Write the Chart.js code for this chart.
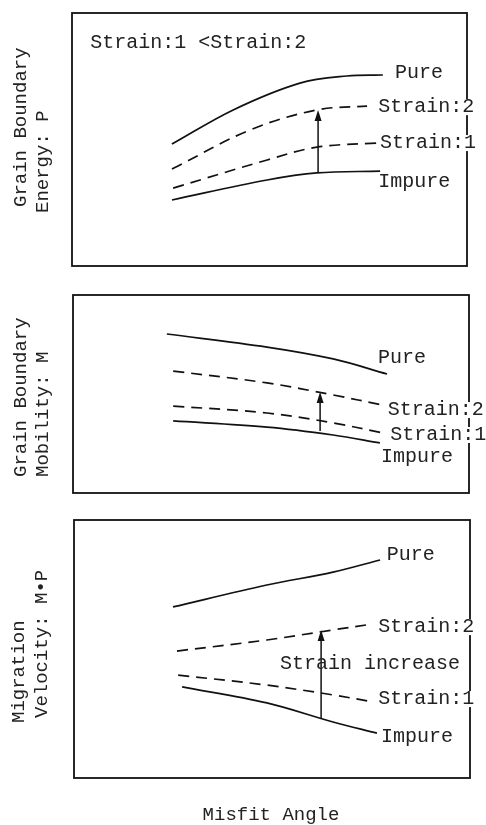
<!DOCTYPE html>
<html>
<head>
<meta charset="utf-8">
<script src="https://cdn.jsdelivr.net/npm/chart.js@4"></script>
<style>
    body { margin: 0; background: #fff; width: 486px; height: 825px; overflow: hidden; position: relative; }
    canvas { position: absolute; left: 0; }
</style>
</head>
<body>
<canvas id="energyChart" width="486" height="280" style="top:0px"></canvas>
<canvas id="mobilityChart" width="486" height="225" style="top:280px"></canvas>
<canvas id="velocityChart" width="486" height="320" style="top:505px"></canvas>
<script>
// ---- Data (x = misfit angle, y = relative value, both 0..100) ----

// Grain boundary energy P
const energyPureX = [25.3, 40.8, 57.7, 69.6, 78.7];
const energyPureY = [48.2, 61.7, 72.3, 75.1, 75.5];
const energyStrain2X = [25.3, 45.1, 62.0, 74.7];
const energyStrain2Y = [38.3, 53.8, 61.7, 63.2];
const energyStrain1X = [25.6, 49.4, 62.0, 77.2];
const energyStrain1Y = [30.8, 41.9, 47.0, 48.6];
const energyImpureX = [25.3, 49.4, 62.0, 78.0];
const energyImpureY = [26.1, 34.0, 36.8, 37.5];
const energyArrowX = 62.3;
const energyArrowY = [36.8, 61.7];
const energyLabels = ['Pure', 'Strain:2', 'Strain:1', 'Impure'];
const energyLabelX = [81.8, 77.5, 78.0, 77.5];
const energyLabelY = [76.3, 62.8, 48.6, 33.2];
const energyNote = 'Strain:1 <Strain:2';
const energyNoteXY = [4.6, 88.1];

// Grain boundary mobility M
const mobilityPureX = [23.7, 49.0, 65.7, 79.3];
const mobilityPureY = [80.3, 73.7, 67.7, 60.1];
const mobilityStrain2X = [25.3, 49.0, 65.7, 78.3];
const mobilityStrain2Y = [61.6, 55.6, 49.5, 44.4];
const mobilityStrain1X = [25.3, 49.0, 65.7, 78.3];
const mobilityStrain1Y = [43.9, 40.4, 35.4, 30.3];
const mobilityImpureX = [25.3, 49.0, 65.7, 77.5];
const mobilityImpureY = [36.4, 33.3, 29.3, 25.3];
const mobilityArrowX = 62.4;
const mobilityArrowY = [31.3, 51.0];
const mobilityLabels = ['Pure', 'Strain:2', 'Strain:1', 'Impure'];
const mobilityLabelX = [77.0, 79.5, 80.1, 77.8];
const mobilityLabelY = [68.2, 41.9, 29.3, 18.2];

// Migration velocity M*P
const velocityPureX = [25.0, 48.7, 65.4, 77.3];
const velocityPureY = [66.3, 74.8, 79.8, 84.5];
const velocityStrain2X = [26.0, 48.7, 65.4, 75.5];
const velocityStrain2Y = [49.2, 53.5, 57.4, 59.7];
const velocityStrain1X = [26.3, 48.7, 65.4, 75.5];
const velocityStrain1Y = [39.9, 36.0, 32.2, 29.5];
const velocityImpureX = [27.3, 48.7, 65.4, 76.5];
const velocityImpureY = [35.3, 29.1, 21.7, 17.4];
const velocityArrowX = 62.4;
const velocityArrowY = [23.3, 57.4];
const velocityLabels = ['Pure', 'Strain:2', 'Strain:1', 'Impure'];
const velocityLabelX = [79.0, 76.8, 76.8, 77.5];
const velocityLabelY = [86.4, 58.5, 30.6, 15.9];
const velocityNote = 'Strain increase';
const velocityNoteXY = [52.0, 44.2];

const FONT = '"Liberation Mono", "Courier New", monospace';
const INK = '#111';

function pts(xs, ys) {
    return xs.map((x, i) => ({ x, y: ys[i] }));
}

function line(xs, ys, dashed) {
    return {
        data: pts(xs, ys),
        borderColor: INK,
        borderWidth: 1.7,
        borderDash: dashed ? [11, 7] : [],
        pointRadius: 0,
        tension: 0.35,
        fill: false
    };
}

// Draws box, arrow head, curve labels and the rotated y title
function panelPlugin(labels, labelX, labelY, note, noteXY, arrowX, arrowY, titles, footer) {
    return {
        id: 'panelDecor',
        afterDatasetsDraw(chart) {
            const { ctx, chartArea: a, scales: { x, y } } = chart;
            ctx.save();
            ctx.strokeStyle = INK;
            ctx.lineWidth = 1.8;
            ctx.strokeRect(a.left, a.top, a.right - a.left, a.bottom - a.top);

            // arrow head
            const tx = x.getPixelForValue(arrowX);
            const ty = y.getPixelForValue(arrowY[1]);
            ctx.fillStyle = INK;
            ctx.beginPath();
            ctx.moveTo(tx, ty);
            ctx.lineTo(tx - 3.5, ty + 11);
            ctx.lineTo(tx + 3.5, ty + 11);
            ctx.closePath();
            ctx.fill();

            ctx.font = '20px ' + FONT;
            ctx.textAlign = 'left';
            ctx.textBaseline = 'middle';
            // curve labels sit on a white patch, so the box edge breaks behind them
            labels.forEach((t, i) => {
                const px = x.getPixelForValue(labelX[i]);
                const py = y.getPixelForValue(labelY[i]);
                const w = ctx.measureText(t).width;
                ctx.fillStyle = '#fff';
                ctx.fillRect(px - 1, py - 8, w + 2, 16);
                ctx.fillStyle = '#222';
                ctx.fillText(t, px, py);
            });
            ctx.fillStyle = '#222';
            ctx.fillText(note, x.getPixelForValue(noteXY[0]), y.getPixelForValue(noteXY[1]));

            ctx.font = '19px ' + FONT;
            titles.forEach(t => {
                ctx.save();
                ctx.translate(t.cx, t.y0);
                ctx.rotate(-Math.PI / 2);
                ctx.fillText(t.text, 0, 0);
                ctx.restore();
            });

            if (footer) {
                ctx.textAlign = 'center';
                ctx.fillText(footer.text, footer.cx, footer.cy);
            }
            ctx.restore();
        }
    };
}

function makePanel(id, padding, datasets, arrowX, arrowY, plugin) {
    const arrowShaft = {
        data: [{ x: arrowX, y: arrowY[0] }, { x: arrowX, y: arrowY[1] - 2 }],
        borderColor: INK,
        borderWidth: 1.5,
        pointRadius: 0,
        fill: false
    };
    return new Chart(document.getElementById(id), {
        type: 'line',
        data: { datasets: datasets.concat([arrowShaft]) },
        options: {
            responsive: false,
            animation: false,
            events: [],
            layout: { padding },
            plugins: { legend: { display: false }, tooltip: { enabled: false } },
            scales: {
                x: { type: 'linear', min: 0, max: 100, display: false },
                y: { type: 'linear', min: 0, max: 100, display: false }
            }
        },
        plugins: [plugin]
    });
}

makePanel('energyChart', { left: 72, right: 19, top: 13, bottom: 14 }, [
    line(energyPureX, energyPureY, false),
    line(energyStrain2X, energyStrain2Y, true),
    line(energyStrain1X, energyStrain1Y, true),
    line(energyImpureX, energyImpureY, false)
], energyArrowX, energyArrowY,
    panelPlugin(energyLabels, energyLabelX, energyLabelY, energyNote, energyNoteXY, energyArrowX, energyArrowY, [
        { text: 'Grain Boundary', cx: 21, y0: 207 },
        { text: 'Energy: P', cx: 43, y0: 213 }
    ]));

makePanel('mobilityChart', { left: 73, right: 17, top: 15, bottom: 12 }, [
    line(mobilityPureX, mobilityPureY, false),
    line(mobilityStrain2X, mobilityStrain2Y, true),
    line(mobilityStrain1X, mobilityStrain1Y, true),
    line(mobilityImpureX, mobilityImpureY, false)
], mobilityArrowX, mobilityArrowY,
    panelPlugin(mobilityLabels, mobilityLabelX, mobilityLabelY, '', [0, 0], mobilityArrowX, mobilityArrowY, [
        { text: 'Grain Boundary', cx: 21, y0: 197 },
        { text: 'Mobility: M', cx: 43, y0: 197 }
    ]));

makePanel('velocityChart', { left: 74, right: 16, top: 15, bottom: 47 }, [
    line(velocityPureX, velocityPureY, false),
    line(velocityStrain2X, velocityStrain2Y, true),
    line(velocityStrain1X, velocityStrain1Y, true),
    line(velocityImpureX, velocityImpureY, false)
], velocityArrowX, velocityArrowY,
    panelPlugin(velocityLabels, velocityLabelX, velocityLabelY, velocityNote, velocityNoteXY, velocityArrowX, velocityArrowY, [
        { text: 'Migration', cx: 19, y0: 218 },
        { text: 'Velocity: M\u2022P', cx: 42, y0: 213 }
    ], { text: 'Misfit Angle', cx: 271, cy: 310 }));
</script>
</body>
</html>
